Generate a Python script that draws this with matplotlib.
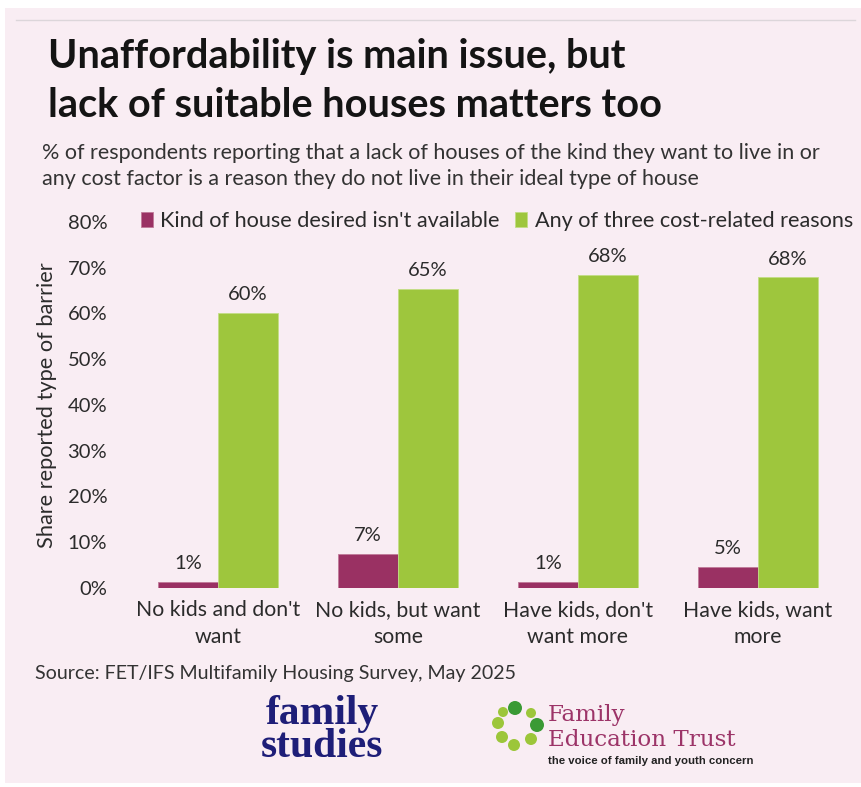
import matplotlib
matplotlib.use("Agg")
import matplotlib.pyplot as plt
from matplotlib.patches import Rectangle, Circle
from matplotlib.lines import Line2D
import numpy as np

categories = ["No kids and don't\nwant", "No kids, but want\nsome", "Have kids, don't\nwant more", "Have kids, want\nmore"]
series_names = ["Kind of house desired isn't available", "Any of three cost-related reasons"]
not_available = [1.3, 7.4, 1.4, 4.6]
cost_reasons = [60.2, 65.4, 68.4, 67.9]
yticks = [0, 10, 20, 30, 40, 50, 60, 70, 80]

MAROON = "#9a3163"
GREEN = "#9ec63d"
BG = "#f9edf3"
TXT = "#2b2b2b"

plt.rcParams['font.family'] = ['Lato', 'DejaVu Sans']

W, H = 862, 787
fig = plt.figure(figsize=(W / 100, H / 100), dpi=100)
fig.patch.set_facecolor("white")

# decoration overlay in pixel coordinates
deco = fig.add_axes([0, 0, 1, 1], zorder=-1)
deco.set_xlim(0, W)
deco.set_ylim(H, 0)
deco.axis("off")
deco.add_patch(Rectangle((5, 8), W - 5, H - 12, facecolor=BG, edgecolor="none"))
deco.add_line(Line2D([16, 855], [20, 20], color="#dcd6da", lw=1))

# main axes
ax = fig.add_axes([128 / W, 1 - 588 / H, 720 / W, (588 - 222) / H])
ax.set_facecolor("none")
x = np.arange(len(categories))
bw = 1 / 3
b1 = ax.bar(x - bw / 2, not_available, width=bw, color=MAROON, label=series_names[0],
            edgecolor="#c07a99", linewidth=0.6)
b2 = ax.bar(x + bw / 2, cost_reasons, width=bw, color=GREEN, label=series_names[1],
            edgecolor="#c3dd86", linewidth=0.6)
for bars, vals in ((b1, not_available), (b2, cost_reasons)):
    for rect, v in zip(bars, vals):
        ax.annotate(f"{v:.0f}%", (rect.get_x() + rect.get_width() / 2, rect.get_height()),
                    xytext=(0, 7), textcoords="offset points", ha="center", va="bottom",
                    fontsize=14.5, color=TXT)
ax.set_xlim(-0.5, len(categories) - 0.5)
ax.set_ylim(0, 80)
ax.set_yticks(yticks)
ax.set_yticklabels([f"{t}%" for t in yticks], fontsize=14.5, color=TXT)
ax.set_xticks(x)
ax.set_xticklabels(categories, fontsize=15.3, color=TXT, linespacing=1.4)
ax.tick_params(axis="y", length=0, pad=15)
ax.tick_params(axis="x", length=0, pad=9)
for s in ax.spines.values():
    s.set_visible(False)

leg = ax.legend(loc="center left", bbox_to_anchor=(141 / W, 1 - 221 / H), bbox_transform=fig.transFigure,
                ncol=2, frameon=False, fontsize=15.6, handlelength=0.55, handleheight=0.75,
                handletextpad=0.35, columnspacing=0.7, borderaxespad=0, borderpad=0)
for t in leg.get_texts():
    t.set_color(TXT)

fig.text(47 / W, 1 - 405 / H, "Share reported type of barrier", rotation=90, ha="center", va="center",
         fontsize=15.7, color=TXT)

# titles
fig.text(48 / W, 1 - 68 / H, "Unaffordability is main issue, but", fontsize=28.5, fontweight="bold",
         color="#141414", ha="left", va="baseline")
fig.text(48 / W, 1 - 117 / H, "lack of suitable houses matters too", fontsize=28.5, fontweight="bold",
         color="#141414", ha="left", va="baseline")
fig.text(42 / W, 1 - 159 / H, "% of respondents reporting that a lack of houses of the kind they want to live in or",
         fontsize=15.5, color="#333333", ha="left", va="baseline")
fig.text(42 / W, 1 - 185 / H, "any cost factor is a reason they do not live in their ideal type of house",
         fontsize=15.5, color="#333333", ha="left", va="baseline")

fig.text(35 / W, 1 - 679 / H, "Source: FET/IFS Multifamily Housing Survey, May 2025",
         fontsize=14.1, color="#333333", ha="left", va="baseline")

# logos
NAVY = "#1e1e78"
fig.text(322 / W, 1 - 757 / H, "family\nstudies", fontsize=30, fontweight="bold", color=NAVY,
         family="Liberation Serif", ha="center", va="baseline", multialignment="center",
         linespacing=0.82)

FET = "#9c3468"
dots = [(515, 708, 7, "#3a9a35"), (531, 713, 5, "#9cc63a"), (537, 725, 7, "#3a9a35"),
        (531, 739, 6, "#9cc63a"), (514, 745, 6, "#9cc63a"), (502, 737, 6, "#9cc63a"),
        (498, 723, 6, "#9cc63a"), (503, 712, 5, "#9cc63a")]
for cx, cy, r, c in dots:
    deco.add_patch(Circle((cx, cy), r, facecolor=c, edgecolor="none"))
fig.text(548 / W, 1 - 721 / H, "Family", fontsize=16.6, color=FET, family="DejaVu Serif",
         ha="left", va="baseline")
fig.text(548 / W, 1 - 746 / H, "Education Trust", fontsize=16.6, color=FET, family="DejaVu Serif",
         ha="left", va="baseline")
fig.text(548 / W, 1 - 764 / H, "the voice of family and youth concern", fontsize=8.2, fontweight="bold",
         color="#222222", family="Liberation Sans", ha="left", va="baseline")

fig.savefig("out.png", dpi=100, facecolor=fig.get_facecolor())
